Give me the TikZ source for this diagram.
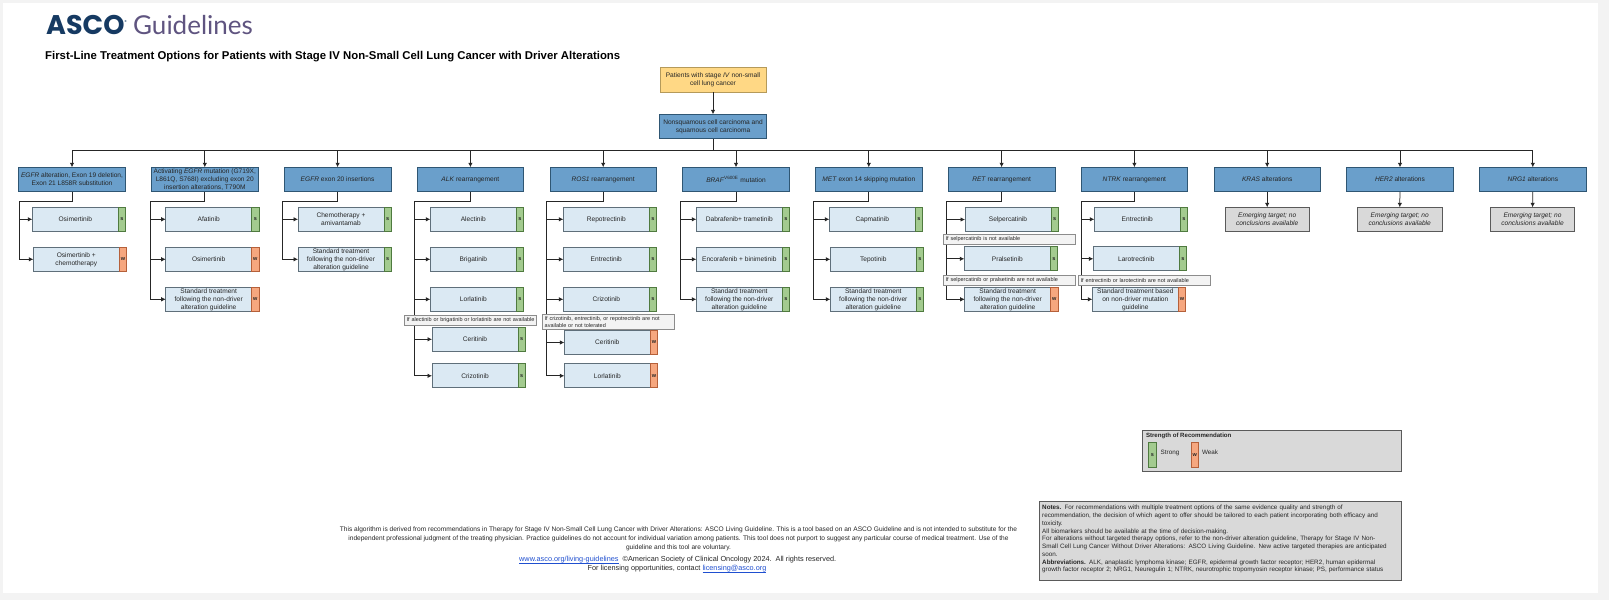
\documentclass[tikz,border=0pt]{standalone}
\usepackage{fontspec}
\setmainfont{Liberation Sans}
\newfontfamily\logofont{Lato}
\newfontfamily\ascofont{Poppins}
\usetikzlibrary{arrows.meta}
\definecolor{pagegray}{HTML}{F3F3F3}
\definecolor{headblue}{HTML}{6A9FCB}
\definecolor{headedge}{HTML}{2F5673}
\definecolor{drugblue}{HTML}{DBE9F3}
\definecolor{drugedge}{HTML}{5F6F7A}
\definecolor{strongfill}{HTML}{A3CB8F}
\definecolor{strongedge}{HTML}{4F7A3F}
\definecolor{weakfill}{HTML}{F6A77F}
\definecolor{weakedge}{HTML}{B5603A}
\definecolor{startfill}{HTML}{FFD885}
\definecolor{startedge}{HTML}{B59A5A}
\definecolor{grayfill}{HTML}{D9D9D9}
\definecolor{grayedge}{HTML}{5A5A5A}
\definecolor{ifedge}{HTML}{8C8C8C}
\definecolor{logoblue}{HTML}{163A62}
\definecolor{logopurple}{HTML}{5F5480}
\definecolor{linkblue}{HTML}{1F4FD0}
\tikzset{
  boxtext/.style={font=\fontsize{6.6}{8}\selectfont,align=center,inner sep=0pt,outer sep=0pt,text=black!85},
  startbox/.style={boxtext,draw=startedge,fill=startfill,line width=0.7pt,minimum width=106pt,minimum height=24.5pt},
  headbox/.style={boxtext,draw=headedge,fill=headblue,line width=0.7pt,minimum width=106.5pt,minimum height=24.5pt},
  drugbox/.style={boxtext,draw=drugedge,fill=drugblue,line width=0.7pt,minimum width=86pt,minimum height=24pt},
  sbadge/.style={boxtext,anchor=west,draw=strongedge,fill=strongfill,line width=0.7pt,minimum width=7.3pt,minimum height=24pt,font=\fontsize{5.5}{6}\bfseries\selectfont},
  wbadge/.style={boxtext,anchor=west,draw=weakedge,fill=weakfill,line width=0.7pt,minimum width=7.3pt,minimum height=24pt,font=\fontsize{5.5}{6}\bfseries\selectfont},
  emptybox/.style={boxtext,draw=grayedge,fill=grayfill,line width=0.7pt,minimum width=84.5pt,minimum height=24pt,font=\fontsize{6.6}{8}\itshape\selectfont},
  ifbox/.style={boxtext,anchor=west,draw=ifedge,fill=pagegray,line width=0.6pt,inner xsep=2pt,text width=128pt,minimum height=9.7pt,align=left,font=\fontsize{5.5}{7}\selectfont},
  link/.style={line width=0.75pt,black!85,>={Latex[length=4.5pt,width=4.5pt]}},
  footline/.style={inner sep=0pt,outer sep=0pt,text=black!85,font=\fontsize{6.58}{8.6}\selectfont},
  contactline/.style={inner sep=0pt,outer sep=0pt,text=black!85,font=\fontsize{7.3}{8.6}\selectfont},
  plainlabel/.style={inner sep=0pt,outer sep=0pt,anchor=west,text=black!85,font=\fontsize{6.3}{8}\selectfont}
}
\begin{document}
\begin{tikzpicture}[x=1pt,y=-1pt]
        \useasboundingbox (0,0) rectangle (1609,600);
        \fill[pagegray] (0,0) rectangle (1609,600);
        \fill[white] (3,3) rectangle (1598,592.7);
        \node[inner sep=0pt,anchor=base west,text=logoblue,font=\ascofont\fontsize{27}{27}\bfseries\selectfont] (asco) at (46,34.5) {ASCO\raisebox{11pt}{\fontsize{4}{4}\selectfont ®}};
        \node[inner sep=0pt,anchor=base west,text=logopurple,font=\logofont\fontsize{26}{26}\selectfont] (guide) at (133,34.5) {Guidelines};
        \node[inner sep=0pt,anchor=west,font=\fontsize{11.36}{14}\bfseries\selectfont] (title) at (45,56.5) {First-Line Treatment Options for Patients with Stage IV Non-Small Cell Lung Cancer with Driver Alterations};
        \node[startbox] (start) at (713,80) {Patients with stage \textit{IV} non-small\\cell lung cancer};
        \node[headbox] (nsq) at (713,126.5) {Nonsquamous cell carcinoma and\\squamous cell carcinoma};
        \coordinate (bus) at (713,150);
        \node[headbox] (h1) at (72,179.5) {\textit{EGFR} alteration, Exon 19 deletion,\\Exon 21 L858R substitution};
        \node[headbox] (h2) at (204.8,179.5) {Activating \textit{EGFR} mutation (G719X,\\L861Q, S768I) excluding exon 20\\insertion alterations, T790M};
        \node[headbox] (h3) at (337.6,179.5) {\textit{EGFR} exon 20 insertions};
        \node[headbox] (h4) at (470.4,179.5) {\textit{ALK} rearrangement};
        \node[headbox] (h5) at (603.2,179.5) {\textit{ROS1} rearrangement};
        \node[headbox] (h6) at (736,179.5) {\textit{BRAF}\textsuperscript{V600E} mutation};
        \node[headbox] (h7) at (868.8,179.5) {\textit{MET} exon 14 skipping mutation};
        \node[headbox] (h8) at (1001.6,179.5) {\textit{RET} rearrangement};
        \node[headbox] (h9) at (1134.4,179.5) {\textit{NTRK} rearrangement};
        \node[headbox] (h10) at (1267.2,179.5) {\textit{KRAS} alterations};
        \node[headbox] (h11) at (1400,179.5) {\textit{HER2} alterations};
        \node[headbox] (h12) at (1532.8,179.5) {\textit{NRG1} alterations};
        \node[drugbox] (d1a) at (75.3,219.3) {Osimertinib};  \node[sbadge] (b1a) at (d1a.east) {s};
        \node[drugbox] (d1b) at (76.3,259.3) {Osimertinib +\\chemotherapy};  \node[wbadge] (b1b) at (d1b.east) {w};
        \node[drugbox] (d2a) at (208.7,219.3) {Afatinib};  \node[sbadge] (b2a) at (d2a.east) {s};
        \node[drugbox] (d2b) at (208.7,259.3) {Osimertinib};  \node[wbadge] (b2b) at (d2b.east) {w};
        \node[drugbox] (d2c) at (208.7,299.3) {Standard treatment\\following the non-driver\\alteration guideline};  \node[wbadge] (b2c) at (d2c.east) {w};
        \node[drugbox] (d3a) at (341,219.3) {Chemotherapy +\\amivantamab};  \node[sbadge] (b3a) at (d3a.east) {s};
        \node[drugbox] (d3b) at (341,259.3) {Standard treatment\\following the non-driver\\alteration guideline};  \node[sbadge] (b3b) at (d3b.east) {s};
        \node[drugbox] (d4a) at (473.3,219.3) {Alectinib};  \node[sbadge] (b4a) at (d4a.east) {s};
        \node[drugbox] (d4b) at (473.3,259.3) {Brigatinib};  \node[sbadge] (b4b) at (d4b.east) {s};
        \node[drugbox] (d4c) at (473.3,299.3) {Lorlatinib};  \node[sbadge] (b4c) at (d4c.east) {s};
        \node[drugbox] (d4d) at (475,339.3) {Ceritinib};  \node[sbadge] (b4d) at (d4d.east) {s};
        \node[drugbox] (d4e) at (475,375.8) {Crizotinib};  \node[sbadge] (b4e) at (d4e.east) {s};
        \node[drugbox] (d5a) at (606.3,219.3) {Repotrectinib};  \node[sbadge] (b5a) at (d5a.east) {s};
        \node[drugbox] (d5b) at (606.3,259.3) {Entrectinib};  \node[sbadge] (b5b) at (d5b.east) {s};
        \node[drugbox] (d5c) at (606.3,299.3) {Crizotinib};  \node[sbadge] (b5c) at (d5c.east) {s};
        \node[drugbox] (d5d) at (607.3,342.5) {Ceritinib};  \node[wbadge] (b5d) at (d5d.east) {w};
        \node[drugbox] (d5e) at (607.3,375.8) {Lorlatinib};  \node[wbadge] (b5e) at (d5e.east) {w};
        \node[drugbox] (d6a) at (739.3,219.3) {Dabrafenib+ trametinib};  \node[sbadge] (b6a) at (d6a.east) {s};
        \node[drugbox] (d6b) at (739.3,259.3) {Encorafenib + binimetinib};  \node[sbadge] (b6b) at (d6b.east) {s};
        \node[drugbox] (d6c) at (739.3,299.3) {Standard treatment\\following the non-driver\\alteration guideline};  \node[sbadge] (b6c) at (d6c.east) {s};
        \node[drugbox] (d7a) at (872.3,219.3) {Capmatinib};  \node[sbadge] (b7a) at (d7a.east) {s};
        \node[drugbox] (d7b) at (873.3,259.3) {Tepotinib};  \node[sbadge] (b7b) at (d7b.east) {s};
        \node[drugbox] (d7c) at (873.3,299.3) {Standard treatment\\following the non-driver\\alteration guideline};  \node[sbadge] (b7c) at (d7c.east) {s};
        \node[drugbox] (d8a) at (1008,219.5) {Selpercatinib};  \node[sbadge] (b8a) at (d8a.east) {s};
        \node[drugbox] (d8b) at (1007.3,258.8) {Pralsetinib};  \node[sbadge] (b8b) at (d8b.east) {s};
        \node[drugbox] (d8c) at (1007.7,299.3) {Standard treatment\\following the non-driver\\alteration guideline};  \node[wbadge] (b8c) at (d8c.east) {w};
        \node[drugbox] (d9a) at (1137.3,219.3) {Entrectinib};  \node[sbadge] (b9a) at (d9a.east) {s};
        \node[drugbox] (d9b) at (1136.3,258.8) {Larotrectinib};  \node[sbadge] (b9b) at (d9b.east) {s};
        \node[drugbox] (d9c) at (1135.3,299.3) {Standard treatment based\\on non-driver mutation\\guideline};  \node[wbadge] (b9c) at (d9c.east) {w};
        \node[emptybox] (e10) at (1267.2,219.3) {Emerging target; no\\conclusions available};
        \node[emptybox] (e11) at (1399.7,219.3) {Emerging target; no\\conclusions available};
        \node[emptybox] (e12) at (1532.5,219.3) {Emerging target; no\\conclusions available};
        \coordinate (s1) at (19.3,201);  \coordinate (s2) at (150.7,201);  \coordinate (s3) at (282.7,201);
        \coordinate (s4) at (414.7,201);  \coordinate (s5) at (546.7,201);  \coordinate (s6) at (680.7,201);
        \coordinate (s7) at (813.3,201);  \coordinate (s8) at (946.3,201);  \coordinate (s9) at (1081.3,201);
        \draw [link,->] (start) -- (nsq);  \draw [link] (nsq) -- (bus);
        \draw [link,->] (bus) -| (h1);  \draw [link,->] (bus) -| (h2);  \draw [link,->] (bus) -| (h3);
        \draw [link,->] (bus) -| (h4);  \draw [link,->] (bus) -| (h5);  \draw [link,->] (bus) -| (h6);
        \draw [link,->] (bus) -| (h7);  \draw [link,->] (bus) -| (h8);  \draw [link,->] (bus) -| (h9);
        \draw [link,->] (bus) -| (h10);  \draw [link,->] (bus) -| (h11);  \draw [link,->] (bus) -| (h12);
        \draw [link] (h1) |- (s1);  \draw [link,->] (s1) |- (d1a);  \draw [link,->] (s1) |- (d1b);
        \draw [link] (h2) |- (s2);  \draw [link,->] (s2) |- (d2a);  \draw [link,->] (s2) |- (d2b);  \draw [link,->] (s2) |- (d2c);
        \draw [link] (h3) |- (s3);  \draw [link,->] (s3) |- (d3a);  \draw [link,->] (s3) |- (d3b);
        \draw [link] (h4) |- (s4);  \draw [link,->] (s4) |- (d4a);  \draw [link,->] (s4) |- (d4b);  \draw [link,->] (s4) |- (d4c);  \draw [link,->] (s4) |- (d4d);  \draw [link,->] (s4) |- (d4e);
        \draw [link] (h5) |- (s5);  \draw [link,->] (s5) |- (d5a);  \draw [link,->] (s5) |- (d5b);  \draw [link,->] (s5) |- (d5c);  \draw [link,->] (s5) |- (d5d);  \draw [link,->] (s5) |- (d5e);
        \draw [link] (h6) |- (s6);  \draw [link,->] (s6) |- (d6a);  \draw [link,->] (s6) |- (d6b);  \draw [link,->] (s6) |- (d6c);
        \draw [link] (h7) |- (s7);  \draw [link,->] (s7) |- (d7a);  \draw [link,->] (s7) |- (d7b);  \draw [link,->] (s7) |- (d7c);
        \draw [link] (h8) |- (s8);  \draw [link,->] (s8) |- (d8a);  \draw [link,->] (s8) |- (d8b);  \draw [link,->] (s8) |- (d8c);
        \draw [link] (h9) |- (s9);  \draw [link,->] (s9) |- (d9a);  \draw [link,->] (s9) |- (d9b);  \draw [link,->] (s9) |- (d9c);
        \draw [link,->] (h10) -- (e10);  \draw [link,->] (h11) -- (e11);  \draw [link,->] (h12) -- (e12);
        \node[ifbox] (if4) at (404.7,320.3) {If alectinib or brigatinib or lorlatinib are not available};
        \node[ifbox,minimum height=15.3pt] (if5) at (542.7,321.7) {If crizotinib, entrectinib, or repotrectinib are not\\available or not tolerated};
        \node[ifbox] (if8a) at (943.7,239) {If selpercatinib is not available};
        \node[ifbox] (if8b) at (943.7,280.5) {If selpercatinib or pralsetinib are not available};
        \node[ifbox] (if9) at (1078.7,280.5) {If entrectinib or larotectinib are not available};
        \node[draw=grayedge,fill=grayfill,line width=0.8pt,inner sep=0pt,outer sep=0pt,minimum width=258.3pt,minimum height=41.4pt] (legend) at (1271.8,451) {};
        \node[plainlabel,font=\fontsize{6.1}{8}\bfseries\selectfont] (legendt) at (1146,436.3) {Strength of Recommendation};
        \node[sbadge,minimum height=25pt] (legends) at (1148.7,455.2) {s};
        \node[plainlabel] (legendst) at (1160.7,452.7) {Strong};
        \node[wbadge,minimum height=25pt] (legendw) at (1191,455.2) {w};
        \node[plainlabel] (legendwt) at (1202,452.7) {Weak};
        \node[draw=grayedge,fill=grayfill,line width=0.8pt,inner sep=0pt,outer sep=0pt,minimum width=362pt,minimum height=79pt] (notes) at (1220.3,541.2) {};
        \node[inner sep=0pt,anchor=north west,text width=358pt,align=left,text=black!85,font=\fontsize{6.3}{7.75}\selectfont] (notest) at (1042,505) {\textbf{Notes.} For recommendations with multiple treatment options of the same evidence quality and strength of\\recommendation, the decision of which agent to offer should be tailored to each patient incorporating both efficacy and\\toxicity.\\All biomarkers should be available at the time of decision-making.\\For alterations without targeted therapy options, refer to the non-driver alteration guideline, Therapy for Stage IV Non-\\Small Cell Lung Cancer Without Driver Alterations: ASCO Living Guideline. New active targeted therapies are anticipated\\soon.\\\textbf{Abbreviations.} ALK, anaplastic lymphoma kinase; EGFR, epidermal growth factor receptor; HER2, human epidermal\\growth factor receptor 2; NRG1, Neuregulin 1; NTRK, neurotrophic tropomyosin receptor kinase; PS, performance status};
        \node[footline,align=center] (disc) at (678.5,538.7) {This algorithm is derived from recommendations in Therapy for Stage IV Non-Small Cell Lung Cancer with Driver Alterations: ASCO Living Guideline. This is a tool based on an ASCO Guideline and is not intended to substitute for the\\independent professional judgment of the treating physician. Practice guidelines do not account for individual variation among patients. This tool does not purport to suggest any particular course of medical treatment. Use of the\\guideline and this tool are voluntary.};
        \node[contactline] (site) at (677.7,559.7) {\textcolor{linkblue}{\underline{\smash{www.asco.org/living-guidelines}}}\ \ ©American Society of Clinical Oncology 2024.\ \ All rights reserved.};
        \node[contactline] (lic) at (677,568.7) {For licensing opportunities, contact \textcolor{linkblue}{\underline{\smash{licensing@asco.org}}}};
\end{tikzpicture}
\end{document}
